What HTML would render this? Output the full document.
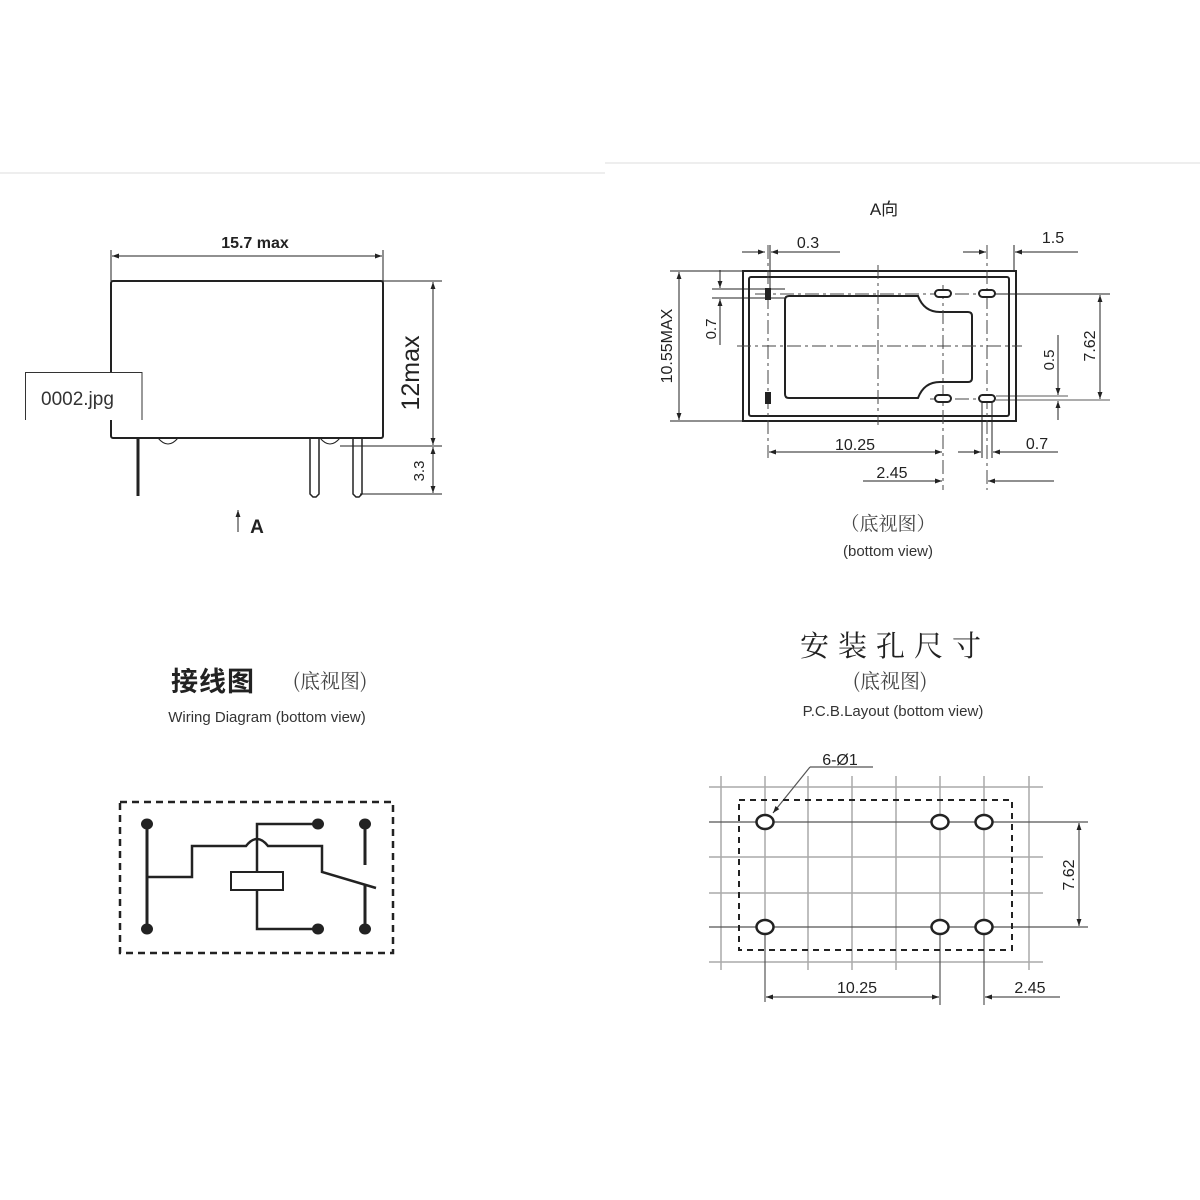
<!DOCTYPE html>
<html><head><meta charset="utf-8"><style>
html,body{margin:0;padding:0;background:#fff;}
svg{display:block;}
text{font-family:"Liberation Sans","Noto Sans CJK SC",sans-serif;fill:#222;}
.cj{font-family:"Noto Serif CJK SC","Noto Sans CJK SC",serif;}
</style></head><body>
<svg width="1200" height="1200" viewBox="0 0 1200 1200" xmlns="http://www.w3.org/2000/svg">
<defs>
<marker id="ar" viewBox="0 0 10 10" refX="10" refY="5" markerWidth="16" markerHeight="7" orient="auto-start-reverse" markerUnits="userSpaceOnUse"><path d="M0,1.5 L10,5 L0,8.5 z" fill="#222"/></marker>
</defs>
<line x1="0" y1="173" x2="605" y2="173" stroke="#eee" stroke-width="2"/>
<line x1="605" y1="163" x2="1200" y2="163" stroke="#eee" stroke-width="2"/>

<!-- LEFT TOP side view -->
<g stroke="#222" fill="none" stroke-width="1">
<rect x="111" y="281" width="272" height="157" rx="2" stroke-width="2"/>
<line x1="111" y1="250" x2="111" y2="281"/><line x1="383" y1="250" x2="383" y2="281"/>
<line x1="112" y1="256" x2="382" y2="256" marker-start="url(#ar)" marker-end="url(#ar)"/>
<line x1="383" y1="281" x2="442" y2="281"/>
<line x1="340" y1="446" x2="442" y2="446"/>
<line x1="360" y1="494" x2="442" y2="494"/>
<line x1="433" y1="282" x2="433" y2="445" marker-start="url(#ar)" marker-end="url(#ar)"/>
<line x1="433" y1="447" x2="433" y2="493" marker-start="url(#ar)" marker-end="url(#ar)"/>
<line x1="138" y1="438" x2="138" y2="496" stroke-width="3"/>
<path d="M310,438 L310,494 L313,497 L316,497 L319,494 L319,438" stroke-width="1.5"/>
<path d="M353,438 L353,494 L356,497 L359,497 L362,494 L362,438" stroke-width="1.5"/>
<path d="M158,438 Q168,450 178,438"/>
<path d="M320,438 Q330,450 340,438"/>
<line x1="238" y1="532" x2="238" y2="510" marker-end="url(#ar)"/>
</g>
<text x="255" y="248" font-size="16" font-weight="bold" text-anchor="middle">15.7 max</text>
<text transform="translate(419,373) rotate(-90)" font-size="25" text-anchor="middle">12max</text>
<text transform="translate(424,471) rotate(-90)" font-size="15" text-anchor="middle">3.3</text>
<text x="257" y="533" font-size="19" font-weight="bold" text-anchor="middle">A</text>
<rect x="25" y="372" width="120" height="48" fill="#fff"/>
<path d="M25.5,420 L25.5,372.5 L142,372.5 L142,420" fill="none" stroke="#333" stroke-width="1"/>
<text x="41" y="405" font-size="19" style="fill:#333">0002.jpg</text>

<!-- RIGHT TOP bottom view -->
<text x="884" y="215" font-size="17" text-anchor="middle">A向</text>
<g stroke="#222" fill="none" stroke-width="1">
<rect x="743" y="271" width="273" height="150" stroke-width="2"/>
<rect x="749" y="277" width="260" height="139" rx="2" stroke-width="2"/>
<path d="M789,296 L918,296 Q924,312 940,312 L968,312 Q972,312 972,316 L972,378 Q972,382 968,382 L940,382 Q924,382 918,398 L789,398 Q785,398 785,394 L785,300 Q785,296 789,296 z" stroke-width="2"/>
<g stroke-dasharray="14,4,3,4" stroke="#444">
<line x1="878" y1="265" x2="878" y2="425"/>
<line x1="768" y1="245" x2="768" y2="458"/>
<line x1="943" y1="285" x2="943" y2="490"/>
<line x1="987" y1="245" x2="987" y2="490"/>
<line x1="737" y1="346" x2="1022" y2="346"/>
<line x1="755" y1="294" x2="1010" y2="294"/>
<line x1="930" y1="399" x2="980" y2="399"/>
</g>
<line x1="770" y1="245" x2="770" y2="300"/>
<line x1="1014" y1="245" x2="1014" y2="271"/>
<line x1="742" y1="252" x2="765" y2="252" marker-end="url(#ar)"/>
<line x1="840" y1="252" x2="771" y2="252" marker-end="url(#ar)"/>
<line x1="963" y1="252" x2="986" y2="252" marker-end="url(#ar)"/>
<line x1="1078" y1="252" x2="1015" y2="252" marker-end="url(#ar)"/>
<line x1="670" y1="271" x2="743" y2="271"/><line x1="670" y1="421" x2="743" y2="421"/>
<line x1="679" y1="272" x2="679" y2="420" marker-start="url(#ar)" marker-end="url(#ar)"/>
<line x1="712" y1="289" x2="785" y2="289"/><line x1="712" y1="298" x2="785" y2="298"/>
<line x1="720" y1="270" x2="720" y2="288" marker-end="url(#ar)"/>
<line x1="720" y1="345" x2="720" y2="299" marker-end="url(#ar)"/>
<line x1="990" y1="294" x2="1110" y2="294"/>
<line x1="996" y1="396" x2="1068" y2="396" stroke-width="0.8"/><line x1="996" y1="400" x2="1110" y2="400" stroke-width="0.8"/>
<line x1="1100" y1="295" x2="1100" y2="399" marker-start="url(#ar)" marker-end="url(#ar)"/>
<line x1="1058" y1="335" x2="1058" y2="395" marker-end="url(#ar)"/>
<line x1="1058" y1="420" x2="1058" y2="401" marker-end="url(#ar)"/>
<line x1="982" y1="400" x2="982" y2="458"/><line x1="992" y1="400" x2="992" y2="458"/>
<line x1="769" y1="452" x2="942" y2="452" marker-start="url(#ar)" marker-end="url(#ar)"/>
<line x1="958" y1="452" x2="981" y2="452" marker-end="url(#ar)"/>
<line x1="1058" y1="452" x2="993" y2="452" marker-end="url(#ar)"/>
<line x1="863" y1="481" x2="942" y2="481" marker-end="url(#ar)"/>
<line x1="1054" y1="481" x2="988" y2="481" marker-end="url(#ar)"/>
</g>
<rect x="765" y="288" width="6" height="12" fill="#222"/>
<rect x="765" y="392" width="6" height="12" fill="#222"/>
<g fill="#fff" stroke="#222" stroke-width="2">
<rect x="935" y="290" width="16" height="7" rx="3.5"/><rect x="979" y="290" width="16" height="7" rx="3.5"/>
<rect x="935" y="395" width="16" height="7" rx="3.5"/><rect x="979" y="395" width="16" height="7" rx="3.5"/>
</g>
<text x="808" y="248" font-size="16" text-anchor="middle">0.3</text>
<text x="1053" y="243" font-size="16" text-anchor="middle">1.5</text>
<text transform="translate(672,346) rotate(-90)" font-size="16" text-anchor="middle">10.55MAX</text>
<text transform="translate(716,329) rotate(-90)" font-size="15" text-anchor="middle">0.7</text>
<text transform="translate(1095,346) rotate(-90)" font-size="16" text-anchor="middle">7.62</text>
<text transform="translate(1054,360) rotate(-90)" font-size="15" text-anchor="middle">0.5</text>
<text x="855" y="450" font-size="16" text-anchor="middle">10.25</text>
<text x="1037" y="449" font-size="16" text-anchor="middle">0.7</text>
<text x="892" y="478" font-size="16" text-anchor="middle">2.45</text>
<text x="888" y="530" font-size="19" text-anchor="middle" class="cj" style="fill:#444">（底视图）</text>
<text x="888" y="556" font-size="15" text-anchor="middle" style="fill:#333">(bottom view)</text>

<!-- BOTTOM LEFT wiring -->
<text x="213" y="691" font-size="27" font-weight="bold" text-anchor="middle" letter-spacing="1">接线图</text>
<text x="330" y="688" font-size="20" text-anchor="middle" class="cj" style="fill:#444">(底视图)</text>
<text x="267" y="722" font-size="15" text-anchor="middle" style="fill:#333">Wiring Diagram (bottom view)</text>
<rect x="120" y="802" width="273" height="151" fill="none" stroke="#222" stroke-width="2.5" stroke-dasharray="7,5"/>
<g stroke="#222" fill="none" stroke-width="2.5">
<line x1="147" y1="824" x2="147" y2="929" stroke-width="3"/>
<path d="M147,877 L192,877 L192,846 L246,846 Q257,832 268,846 L322,846 L322,872 L376,888"/>
<path d="M318,824 L257,824 L257,872"/>
<path d="M257,890 L257,929 L318,929"/>
<line x1="365" y1="824" x2="365" y2="865" stroke-width="3"/>
<line x1="365" y1="885" x2="365" y2="929" stroke-width="3"/>
<rect x="231" y="872" width="52" height="18" stroke-width="2"/>
</g>
<g fill="#222">
<ellipse cx="147" cy="824" rx="6" ry="5.5"/><ellipse cx="147" cy="929" rx="6" ry="5.5"/>
<ellipse cx="318" cy="824" rx="6" ry="5.5"/><ellipse cx="318" cy="929" rx="6" ry="5.5"/>
<ellipse cx="365" cy="824" rx="6" ry="5.5"/><ellipse cx="365" cy="929" rx="6" ry="5.5"/>
</g>

<!-- BOTTOM RIGHT PCB -->
<text x="895" y="656" font-size="29" text-anchor="middle" letter-spacing="9" class="cj">安装孔尺寸</text>
<text x="890" y="688" font-size="20" text-anchor="middle" class="cj" style="fill:#444">(底视图)</text>
<text x="893" y="716" font-size="15" text-anchor="middle" style="fill:#333">P.C.B.Layout (bottom view)</text>
<g stroke="#aaa" stroke-width="1.5">
<line x1="721" y1="776" x2="721" y2="970"/><line x1="808" y1="776" x2="808" y2="970"/>
<line x1="852" y1="776" x2="852" y2="970"/><line x1="896" y1="776" x2="896" y2="970"/>
<line x1="1029" y1="776" x2="1029" y2="970"/>
<line x1="765" y1="776" x2="765" y2="927"/><line x1="940" y1="776" x2="940" y2="927"/><line x1="984" y1="776" x2="984" y2="927"/>
<line x1="709" y1="787" x2="1043" y2="787"/><line x1="709" y1="857" x2="1043" y2="857"/>
<line x1="709" y1="893" x2="1043" y2="893"/><line x1="709" y1="962" x2="1043" y2="962"/>
</g>
<g stroke="#555" stroke-width="1.2" fill="none">
<line x1="709" y1="822" x2="1088" y2="822"/><line x1="709" y1="927" x2="1088" y2="927"/>
<line x1="765" y1="927" x2="765" y2="1002"/><line x1="940" y1="927" x2="940" y2="1005"/><line x1="984" y1="927" x2="984" y2="1005"/>
<line x1="1079" y1="823" x2="1079" y2="926" marker-start="url(#ar)" marker-end="url(#ar)"/>
<line x1="766" y1="997" x2="939" y2="997" marker-start="url(#ar)" marker-end="url(#ar)"/>
<line x1="1060" y1="997" x2="985" y2="997" marker-end="url(#ar)"/>
<line x1="810" y1="767" x2="873" y2="767"/>
<line x1="810" y1="767" x2="773" y2="813" marker-end="url(#ar)"/>
</g>
<rect x="739" y="800" width="273" height="150" fill="none" stroke="#222" stroke-width="2" stroke-dasharray="6,5"/>
<g fill="#fff" stroke="#222" stroke-width="2.5">
<ellipse cx="765" cy="822" rx="8.5" ry="7"/><ellipse cx="940" cy="822" rx="8.5" ry="7"/><ellipse cx="984" cy="822" rx="8.5" ry="7"/>
<ellipse cx="765" cy="927" rx="8.5" ry="7"/><ellipse cx="940" cy="927" rx="8.5" ry="7"/><ellipse cx="984" cy="927" rx="8.5" ry="7"/>
</g>
<text x="840" y="765" font-size="16" text-anchor="middle">6-Ø1</text>
<text transform="translate(1074,875) rotate(-90)" font-size="16" text-anchor="middle">7.62</text>
<text x="857" y="993" font-size="16" text-anchor="middle">10.25</text>
<text x="1030" y="993" font-size="16" text-anchor="middle">2.45</text>
</svg>
</body></html>
